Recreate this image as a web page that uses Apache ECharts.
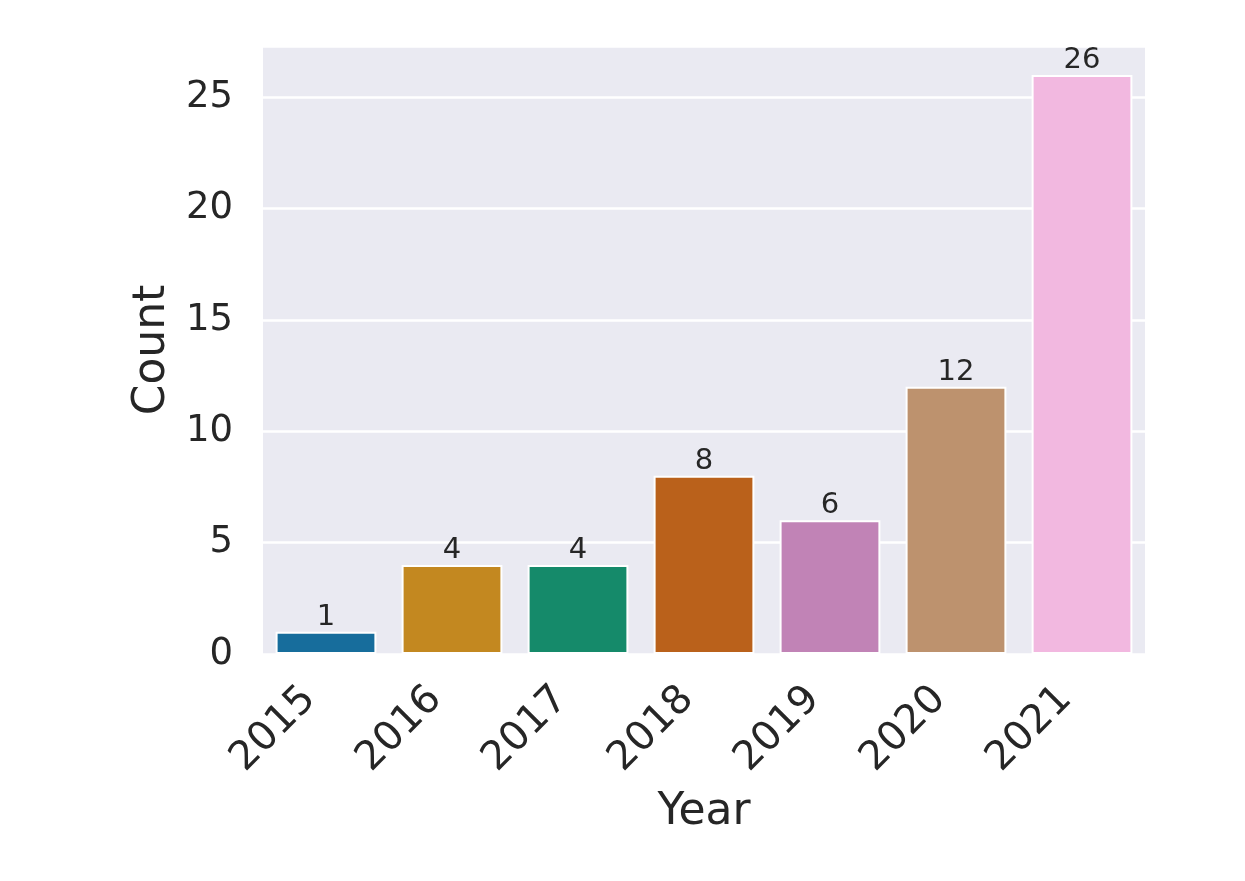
<!DOCTYPE html>
<html>
<head>
<meta charset="utf-8">
<script src="https://cdn.jsdelivr.net/npm/echarts@6/dist/echarts.min.js"></script>
<style>
html,body{margin:0;padding:0;background:#fff;}
#chart{width:1245px;height:881px;}
</style>
</head>
<body>
<div id="chart"></div>
<script>
const years = ['2015','2016','2017','2018','2019','2020','2021'];
const counts = [1, 4, 4, 8, 6, 12, 26];
const barColors = ['#176d9c','#c38820','#158a6a','#ba611b','#c183b6','#bd926e','#f2b8e0'];
const yTicks = [0, 5, 10, 15, 20, 25];

const chart = echarts.init(document.getElementById('chart'));
const font = 'DejaVu Sans';
chart.setOption({
  animation: false,
  backgroundColor: '#ffffff',
  grid: {left: 263, right: 100, top: 46, bottom: 227, show: true, backgroundColor: '#eaeaf2', borderWidth: 0},
  xAxis: {
    type: 'category',
    data: years,
    name: 'Year',
    nameLocation: 'middle',
    nameGap: 137,
    nameTextStyle: {fontFamily: font, fontSize: 44, color: '#262626'},
    axisLine: {show: false},
    axisTick: {show: false},
    splitLine: {show: false},
    axisLabel: {rotate: 45, fontFamily: font, fontSize: 40, color: '#262626', margin: 23, padding: [0, 23, 0, 0]}
  },
  yAxis: {
    type: 'value',
    min: 0,
    max: 27.3,
    interval: 5,
    name: 'Count',
    nameLocation: 'middle',
    nameGap: 87,
    nameTextStyle: {fontFamily: font, fontSize: 44, color: '#262626'},
    axisLine: {show: false},
    axisTick: {show: false},
    splitLine: {show: true, lineStyle: {color: '#ffffff', width: 2.5}},
    axisLabel: {fontFamily: font, fontSize: 37, color: '#262626', margin: 30,
      formatter: v => yTicks.includes(v) ? String(v) : ''}
  },
  series: [{
    type: 'bar',
    barWidth: '80%',
    data: counts.map((v, i) => ({value: v, itemStyle: {color: barColors[i]}})),
    itemStyle: {borderColor: '#ffffff', borderWidth: 2},
    label: {show: true, position: 'top', distance: 0, fontFamily: font, fontSize: 29, color: '#262626'}
  }]
});
</script>
</body>
</html>
